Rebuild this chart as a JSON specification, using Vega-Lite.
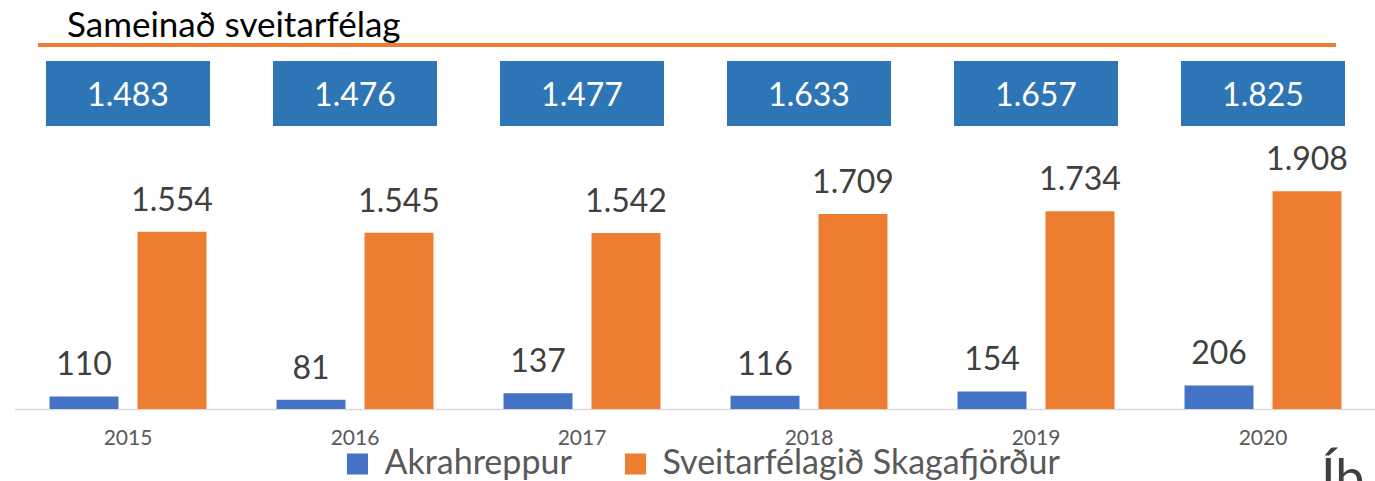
{
  "$schema": "https://vega.github.io/schema/vega-lite/v6.json",
  "width": 1362,
  "height": 409,
  "autosize": {"type": "none"},
  "padding": {"left": 14.5, "top": 0, "right": 0, "bottom": 72},
  "background": "white",
  "config": {
    "view": {"stroke": null},
    "font": "Lato",
    "locale": {"number": {"decimal": ",", "thousands": ".", "grouping": [3], "currency": ["", " kr."]}}
  },
  "datasets": {
    "bars": [
      {"year": "2015", "series": "Akrahreppur", "value": 110},
      {"year": "2015", "series": "Sveitarfélagið Skagafjörður", "value": 1554},
      {"year": "2016", "series": "Akrahreppur", "value": 81},
      {"year": "2016", "series": "Sveitarfélagið Skagafjörður", "value": 1545},
      {"year": "2017", "series": "Akrahreppur", "value": 137},
      {"year": "2017", "series": "Sveitarfélagið Skagafjörður", "value": 1542},
      {"year": "2018", "series": "Akrahreppur", "value": 116},
      {"year": "2018", "series": "Sveitarfélagið Skagafjörður", "value": 1709},
      {"year": "2019", "series": "Akrahreppur", "value": 154},
      {"year": "2019", "series": "Sveitarfélagið Skagafjörður", "value": 1734},
      {"year": "2020", "series": "Akrahreppur", "value": 206},
      {"year": "2020", "series": "Sveitarfélagið Skagafjörður", "value": 1908}
    ],
    "totals": [
      {"year": "2015", "total": 1483},
      {"year": "2016", "total": 1476},
      {"year": "2017", "total": 1477},
      {"year": "2018", "total": 1633},
      {"year": "2019", "total": 1657},
      {"year": "2020", "total": 1825}
    ]
  },
  "layer": [
    {
      "data": {"name": "bars"},
      "mark": {"type": "bar"},
      "encoding": {
        "x": {
          "field": "year", "type": "nominal",
          "scale": {"paddingInner": 0, "paddingOuter": 0},
          "axis": {"title": null, "labelAngle": 0, "ticks": false, "domainColor": "#d9d9d9", "domainWidth": 1.5, "labelFontSize": 21, "labelColor": "#595959", "labelPadding": 18, "labelFont": "Lato"}
        },
        "xOffset": {"field": "series", "type": "nominal", "scale": {"paddingInner": 0.216, "paddingOuter": 0.398}},
        "y": {"field": "value", "type": "quantitative", "scale": {"domain": [0, 3585], "nice": false}, "axis": null},
        "color": {
          "field": "series", "type": "nominal",
          "scale": {"domain": ["Akrahreppur", "Sveitarfélagið Skagafjörður"], "range": ["#4472C4", "#ED7D31"]},
          "legend": {"orient": "none", "legendX": 326, "legendY": 447, "direction": "horizontal", "title": null, "symbolType": "square", "symbolSize": 441, "symbolStrokeWidth": 0, "labelFontSize": 34, "labelFont": "Lato", "labelColor": "#595959", "labelLimit": 0, "columnPadding": 46, "labelOffset": 10, "padding": 0}
        }
      }
    },
    {
      "data": {"name": "bars"},
      "mark": {"type": "text", "baseline": "alphabetic", "fontSize": 32, "color": "#404040", "dy": -21},
      "encoding": {
        "x": {"field": "year", "type": "nominal"},
        "xOffset": {"field": "series", "type": "nominal"},
        "y": {"field": "value", "type": "quantitative"},
        "text": {"field": "value", "type": "quantitative", "format": ","}
      }
    },
    {
      "data": {"name": "totals"},
      "mark": {"type": "bar", "width": 164, "color": "#2E75B6"},
      "encoding": {
        "x": {"field": "year", "type": "nominal"},
        "y": {"datum": 3050},
        "y2": {"datum": 2480}
      }
    },
    {
      "data": {"name": "totals"},
      "mark": {"type": "text", "baseline": "alphabetic", "fontSize": 32, "color": "white"},
      "encoding": {
        "x": {"field": "year", "type": "nominal"},
        "y": {"datum": 2655},
        "text": {"field": "total", "type": "quantitative", "format": ","}
      }
    },
    {
      "data": {"values": [{}]},
      "mark": {"type": "rule", "color": "#ED7D31", "strokeWidth": 4, "xOffset": -90, "x2Offset": 73},
      "encoding": {
        "x": {"datum": "2015"},
        "x2": {"datum": "2020"},
        "y": {"datum": 3190}
      }
    },
    {
      "data": {"values": [{}]},
      "mark": {"type": "text", "text": "Sameinað sveitarfélag", "align": "left", "baseline": "alphabetic", "fontSize": 35, "color": "#000000", "dx": -61},
      "encoding": {
        "x": {"datum": "2015"},
        "y": {"datum": 3260}
      }
    },
    {
      "data": {"values": [{}]},
      "mark": {"type": "text", "text": "Íb", "align": "left", "baseline": "alphabetic", "fontSize": 52, "color": "#404040", "dx": 58},
      "encoding": {
        "x": {"datum": "2020"},
        "y": {"datum": -762}
      }
    }
  ]
}
